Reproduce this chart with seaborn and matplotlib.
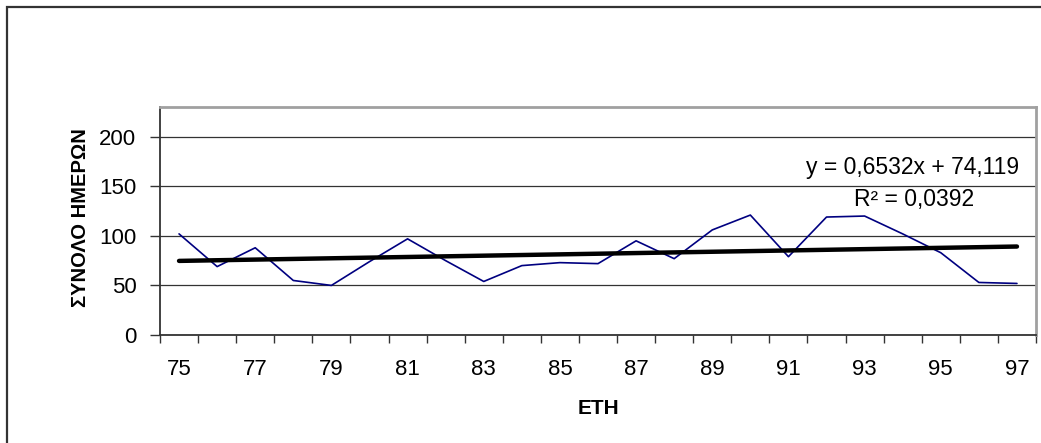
import numpy as np
import matplotlib
matplotlib.use("Agg")
import matplotlib.pyplot as plt
import seaborn as sns
from matplotlib.patches import Rectangle

# chart data
years = ["75", "76", "77", "78", "79", "80", "81", "82", "83", "84", "85", "86",
         "87", "88", "89", "90", "91", "92", "93", "94", "95", "96", "97"]
days = [102, 69, 88, 55, 50, 74, 97, 75, 54, 70, 73, 72,
        95, 77, 106, 121, 79, 119, 120, 102, 83, 53, 52]
y_ticks = [0, 50, 100, 150, 200]
eq_text = "y = 0,6532x + 74,119"
r2_text = "R\u00b2 = 0,0392"
x_title = "ETH"
y_title = "ΣΥΝΟΛΟ ΗΜΕΡΩΝ"

sns.set_style("white")
plt.rcParams['font.family'] = ['Liberation Sans', 'DejaVu Sans']
plt.rcParams['text.color'] = 'black'
plt.rcParams['xtick.labelcolor'] = 'black'
plt.rcParams['ytick.labelcolor'] = 'black'

W, H = 1041, 443
fig = plt.figure(figsize=(W / 100, H / 100), dpi=100)
ax = fig.add_axes([160 / W, 1 - 335 / H, (1036 - 160) / W, (335 - 107) / H])

idx = np.arange(1, len(years) + 1)

sns.lineplot(x=idx, y=days, ax=ax, color="#000080", linewidth=1.2)
sns.regplot(x=idx, y=days, ax=ax, scatter=False, ci=None, truncate=True,
            line_kws={"color": "black", "linewidth": 3.2})

ax.set_xlim(0.5, len(years) + 0.5)
ax.set_ylim(0, 230)

# gridlines
ax.set_yticks(y_ticks)
ax.yaxis.grid(True, color="#333333", linewidth=0.9)
ax.xaxis.grid(False)
ax.set_axisbelow(True)

# category axis: ticks at boundaries, labels at every other category centre
ax.set_xticks(np.arange(0.5, len(years) + 1, 1.0))
ax.set_xticklabels([])
ax.set_xticks(idx[::2], minor=True)
ax.set_xticklabels(years[::2], minor=True)
ax.tick_params(axis="x", which="major", direction="out", length=6, width=1,
               color="#333333", bottom=True)
ax.tick_params(axis="x", which="minor", length=0, pad=17, labelsize=16,
               labelcolor="black")
ax.tick_params(axis="y", direction="out", length=7, width=1, color="#333333",
               left=True, pad=10, labelsize=16, labelcolor="black")

for s in ["left", "bottom"]:
    ax.spines[s].set_color("#333333")
    ax.spines[s].set_linewidth(1.3)
for s in ["top", "right"]:
    ax.spines[s].set_color("#a0a0a0")
    ax.spines[s].set_linewidth(2)

ax.set_xlabel("")
ax.set_ylabel("")
fig.text(598 / W, 1 - 408 / H, x_title, ha="center", va="center",
         fontsize=15, fontweight="bold", color="black")
fig.text(80 / W, 1 - 218 / H, y_title, ha="center", va="center",
         rotation=90, fontsize=14.5, fontweight="bold", color="black")

# trendline label
ax.text(20.27, 168.5, eq_text, ha="center", va="center", fontsize=16.5,
        color="black")
ax.text(20.3, 136.5, r2_text, ha="center", va="center", fontsize=16.5,
        color="black")

# outer chart frame
fig.patches.append(Rectangle((7 / W, -0.2), 1.5, 1.2 - 7 / H,
                             transform=fig.transFigure, fill=False,
                             edgecolor="#333333", linewidth=1.6))

fig.savefig("out.png", dpi=100)
